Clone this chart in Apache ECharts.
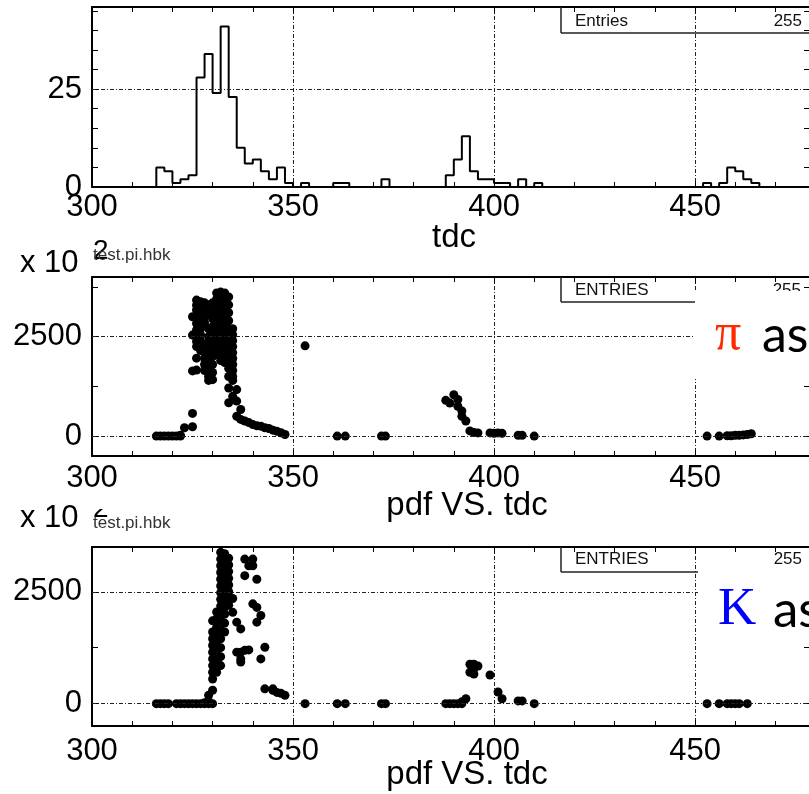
<!DOCTYPE html>
<html>
<head>
<meta charset="utf-8">
<script src="https://cdn.jsdelivr.net/npm/echarts@6/dist/echarts.min.js"></script>
<style>
  html, body { margin: 0; padding: 0; overflow: hidden; background: #fff; }
  #chart { width: 820px; height: 794px; }
</style>
</head>
<body>
<div id="chart"></div>
<script>
// tdc histogram, bin width 2 (only filled bins listed, left edges)
var histBins = [316, 318, 320, 322, 324, 326, 328, 330, 332, 334, 336, 338, 340, 342, 344, 346, 348,
                352, 360, 362, 372,
                388, 390, 392, 394, 396, 398, 400, 402, 406, 410,
                452, 456, 458, 460, 462, 464];
var histCounts = [5, 4, 1, 2, 3, 28, 34, 24, 41, 23, 10, 6, 7, 4, 2, 5, 1,
                  1, 1, 1, 2,
                  3, 7, 13, 4, 2, 2, 1, 1, 2, 1,
                  1, 1, 5, 4, 2, 1];

// pdf VS. tdc, pi hypothesis  [tdc, pdf]
var piPoints = [
  [316, 0], [317, 0], [318, 0], [319, 0], [320, 0], [321, 0], [322, 0], [322, 20], [323, 210], [325, 235], [325, 570],
  [325, 1640], [325, 2540], [325, 3000],
  [326, 3420], [326, 3290], [326, 3170], [326, 3000], [326, 2830], [326, 2670], [326, 2500], [326, 2380], [326, 2250], [326, 1960], [326, 1660],
  [327, 3380], [327, 3230], [327, 3080], [327, 2900], [327, 2700], [327, 2550], [327, 2400], [327, 2150],
  [328, 3350], [328, 3200], [328, 3000], [328, 2850], [328, 2250], [328, 2100], [328, 1950], [328, 1800], [328, 1650],
  [329, 3300], [329, 3050], [329, 2700], [329, 2500], [329, 2350], [329, 2150], [329, 1950], [329, 1800], [329, 1650], [329, 1500], [329, 1400],
  [330, 3350], [330, 3150], [330, 2950], [330, 2750], [330, 2600], [330, 2400], [330, 2200], [330, 2000], [330, 1800], [330, 1600], [330, 1420],
  [331, 3600], [331, 3450], [331, 3250], [331, 3050], [331, 2850], [331, 2650], [331, 2450], [331, 2250], [331, 2050],
  [332, 3620], [332, 3470], [332, 3300], [332, 3100], [332, 2900], [332, 2700], [332, 2500], [332, 2300], [332, 2100], [332, 1900],
  [333, 3600], [333, 3450], [333, 3250], [333, 3050], [333, 2850], [333, 2650], [333, 2450], [333, 2250], [333, 2050], [333, 1850],
  [334, 3500], [334, 3300], [334, 3100], [334, 2900], [334, 2700], [334, 2500], [334, 2300], [334, 2100], [334, 1900], [334, 1700], [334, 1500],
  [335, 2700], [335, 2550], [335, 2400], [335, 2250], [335, 2100], [335, 1950], [335, 1800], [335, 1650], [335, 1500], [335, 1400],
  [334, 1210], [336, 1170], [335, 1000], [334, 840], [336, 880], [337, 670],
  [336, 500], [337, 420], [338, 380], [339, 340], [340, 290], [341, 260], [342, 250], [343, 210], [344, 190], [345, 150], [346, 120], [347, 85], [348, 40],
  [353, 2270],
  [361, 0], [363, 0], [372, 0], [373, 0],
  [388, 900], [389, 830], [390, 1040], [391, 920], [391, 750], [392, 630], [392, 500], [393, 380], [394, 130], [395, 90], [396, 80],
  [399, 80], [400, 70], [401, 80], [402, 70], [406, 20], [407, 20], [410, 0],
  [453, 0], [456, 0], [458, 10], [459, 10], [460, 20], [461, 20], [462, 30], [463, 40], [464, 60]
];

// pdf VS. tdc, K hypothesis  [tdc, pdf]
var kPoints = [
  [316, 0], [317, 0], [318, 0], [319, 0], [321, 0], [322, 0], [323, 0], [324, 0], [325, 0], [326, 0], [327, 0], [328, 0], [328, 20],
  [329, 0], [329, 60], [329, 185],
  [330, 0], [330, 300], [330, 550], [330, 700], [330, 850], [330, 1000], [330, 1150], [330, 1300], [330, 1450], [330, 1600], [330, 1850],
  [331, 700], [331, 900], [331, 1100], [331, 1300], [331, 1500], [331, 1700], [331, 1900], [331, 2050],
  [332, 3380], [332, 3230], [332, 3080], [332, 2930], [332, 2780], [332, 2630], [332, 2480], [332, 2330], [332, 2180], [332, 2040],
  [332, 1850], [332, 1650], [332, 1450], [332, 1250], [332, 1050], [332, 850],
  [333, 3350], [333, 3200], [333, 3050], [333, 2900], [333, 2750], [333, 2600], [333, 2450], [333, 2300], [333, 2150], [333, 2000], [333, 1800], [333, 1600],
  [334, 3250], [334, 3100], [334, 2950], [334, 2800], [334, 2650], [334, 2500], [334, 2350], [334, 2200],
  [335, 2350], [335, 2040],
  [336, 1820], [336, 1150],
  [337, 1670], [337, 1150], [337, 1000], [337, 930],
  [338, 3230], [338, 2860], [338, 1190],
  [339, 3080], [339, 1200],
  [340, 3230], [340, 3080], [340, 2230],
  [341, 2780], [341, 2150], [341, 1820],
  [342, 1970], [342, 1000],
  [343, 1260], [343, 330], [345, 330], [345, 300], [346, 250], [347, 230], [348, 185],
  [353, 0], [361, 0], [363, 0], [372, 0], [373, 0],
  [388, 0], [389, 0], [390, 0], [391, 0], [392, 0], [392, 40], [393, 110],
  [394, 880], [394, 700], [395, 880], [395, 780], [395, 660], [396, 840], [399, 640],
  [401, 260], [402, 110], [406, 60], [407, 60], [410, 0],
  [453, 0], [456, 0], [458, 0], [459, 0], [460, 0], [461, 0], [463, 0]
];

// axes
var xMin = 300, xMax = 478.6, xStep = 50;
var yRanges = [[0, 46], [-500, 4000], [-500, 3500]];
var yTickValues = [[0, 5, 10, 15, 20, 25, 30, 35, 40, 45], [0, 1250, 2500, 3750], [0, 1250, 2500]];
var yTickLabels = [[0, 25], [0, 2500], [0, 2500]];
var yGridValues = [[25], [0, 2500], [0, 2500]];

var chart = echarts.init(document.getElementById('chart'));

var histData = [];
for (var e = 300; e < 480; e += 2) {
  var k = histBins.indexOf(e);
  histData.push([e, k >= 0 ? histCounts[k] : 0]);
}
histData.push([480, 0]);

var labelFont = { fontFamily: 'Liberation Sans', fontSize: 31, color: '#000' };
var dash = [4, 2, 1, 2];
var gridBoxes = [
  { left: 92, top: 7, width: 718, height: 180 },
  { left: 92, top: 277, width: 718, height: 179 },
  { left: 92, top: 547, width: 718, height: 179 }
];
var xLabelMargin = [5, 7, 10];

var xAxes = [], yAxes = [];
gridBoxes.forEach(function (g, i) {
  xAxes.push({
    type: 'value', gridIndex: i, position: 'bottom', min: xMin, max: xMax, interval: xStep,
    axisLine: { show: true, onZero: false, lineStyle: { color: '#000', width: 2 } },
    axisTick: { show: true, inside: true, length: 6, lineStyle: { color: '#000' } },
    minorTick: { show: true, splitNumber: 5, length: 5, lineStyle: { color: '#000' } },
    axisLabel: Object.assign({ margin: xLabelMargin[i], showMaxLabel: false,
      formatter: function (v) { return v % xStep === 0 ? String(v) : ''; } }, labelFont),
    splitLine: { show: true, lineStyle: { color: '#222', width: 1, type: dash } }
  });
  xAxes.push({
    type: 'value', gridIndex: i, position: 'top', min: xMin, max: xMax, interval: xStep,
    axisLine: { show: true, onZero: false, lineStyle: { color: '#000', width: 2 } },
    axisTick: { show: true, inside: true, length: 6, lineStyle: { color: '#000' } },
    minorTick: { show: true, splitNumber: 5, length: 5, lineStyle: { color: '#000' } },
    axisLabel: { show: false },
    splitLine: { show: false }
  });
  yAxes.push({
    type: 'value', gridIndex: i, position: 'left', min: yRanges[i][0], max: yRanges[i][1],
    axisLine: { show: true, onZero: false, lineStyle: { color: '#000', width: 2 } },
    axisTick: { show: true, inside: true, length: 6, customValues: yTickValues[i], lineStyle: { color: '#000' } },
    axisLabel: Object.assign({ margin: 10, customValues: yTickLabels[i],
      formatter: function (v) { return String(v); } }, labelFont),
    splitLine: { show: false }
  });
  yAxes.push({
    type: 'value', gridIndex: i, position: 'right', min: yRanges[i][0], max: yRanges[i][1],
    axisLine: { show: true, onZero: false, lineStyle: { color: '#000', width: 2 } },
    axisTick: { show: true, inside: true, length: 6, customValues: yTickValues[i], lineStyle: { color: '#000' } },
    axisLabel: { show: false },
    splitLine: { show: false }
  });
});

function gridLines(i) {
  return {
    silent: true, symbol: ['none', 'none'], label: { show: false },
    lineStyle: { color: '#222', width: 1, type: dash },
    data: yGridValues[i].map(function (v) { return { yAxis: v }; })
  };
}

// text at a given baseline
function txt(x, base, s, size, family, color, align, z) {
  return {
    type: 'text', z: z || 102, x: x, y: base - size * 0.36,
    style: { text: s, font: size + 'px "' + family + '"', fill: color || '#000',
             align: align || 'left', verticalAlign: 'middle' }
  };
}
function line(x1, y1, x2, y2) {
  return { type: 'line', z: 100, shape: { x1: x1, y1: y1, x2: x2, y2: y2 },
           style: { stroke: '#222', lineWidth: 1.5 } };
}
function blank(x, y, w, h) {
  return { type: 'rect', z: 101, shape: { x: x, y: y, width: w, height: h }, style: { fill: '#fff' } };
}

var graphics = [
  // stats boxes
  line(561, 7, 561, 33), line(561, 33, 820, 33),
  txt(575, 27, 'Entries', 17, 'Liberation Sans', '#111'),
  txt(802, 27, '255', 17, 'Liberation Sans', '#111', 'right'),
  line(561, 277, 561, 302), line(561, 302, 820, 302),
  txt(575, 296, 'ENTRIES', 17, 'Liberation Sans', '#111'),
  txt(801, 296, '255', 17, 'Liberation Sans', '#111', 'right', 100),
  line(561, 547, 561, 572), line(561, 572, 820, 572),
  txt(575, 565, 'ENTRIES', 17, 'Liberation Sans', '#111'),
  txt(802, 565, '255', 17, 'Liberation Sans', '#111', 'right'),
  // pasted labels cover part of the frames
  blank(695, 291, 130, 88),
  blank(698, 567, 130, 72),
  blank(86, 490, 30, 19),
  // axis titles
  txt(454, 250, 'tdc', 33, 'Liberation Sans', '#000', 'center'),
  txt(467, 518, 'pdf VS. tdc', 33, 'Liberation Sans', '#000', 'center'),
  txt(467, 787, 'pdf VS. tdc', 33, 'Liberation Sans', '#000', 'center'),
  // scale factor and file name
  txt(20, 275, 'x 10', 31, 'Liberation Sans', '#000'),
  txt(93, 261, '2', 28, 'Liberation Sans', '#000'),
  txt(93, 261, 'test.pi.hbk', 17, 'Liberation Sans', '#333'),
  txt(20, 530, 'x 10', 31, 'Liberation Sans', '#000'),
  txt(93, 519, '2', 28, 'Liberation Sans', '#000', 'left', 100),
  txt(93, 529, 'test.pi.hbk', 17, 'Liberation Sans', '#333'),
  // hypothesis labels
  txt(715, 354, 'π', 52, 'Liberation Serif', '#ff2a00'),
  txt(762, 354, 'as', 50, 'Lato', '#000'),
  txt(718, 629, 'K', 53, 'Liberation Serif', '#0000ff'),
  txt(773, 629, 'as', 51, 'Lato', '#000')
];

var dotStyle = { color: '#000', opacity: 1 };

var option = {
  animation: false,
  backgroundColor: '#fff',
  grid: gridBoxes,
  xAxis: xAxes,
  yAxis: yAxes,
  series: [
    {
      name: 'tdc', type: 'line', xAxisIndex: 0, yAxisIndex: 0, step: 'end',
      data: histData, symbol: 'none', lineStyle: { color: '#000', width: 2 },
      markLine: gridLines(0)
    },
    {
      name: 'pi', type: 'scatter', xAxisIndex: 2, yAxisIndex: 2, data: piPoints,
      symbolSize: 9, itemStyle: dotStyle, markLine: gridLines(1)
    },
    {
      name: 'K', type: 'scatter', xAxisIndex: 4, yAxisIndex: 4, data: kPoints,
      symbolSize: 9, itemStyle: dotStyle, markLine: gridLines(2)
    }
  ],
  graphic: graphics
};
chart.setOption(option);
</script>
</body>
</html>
